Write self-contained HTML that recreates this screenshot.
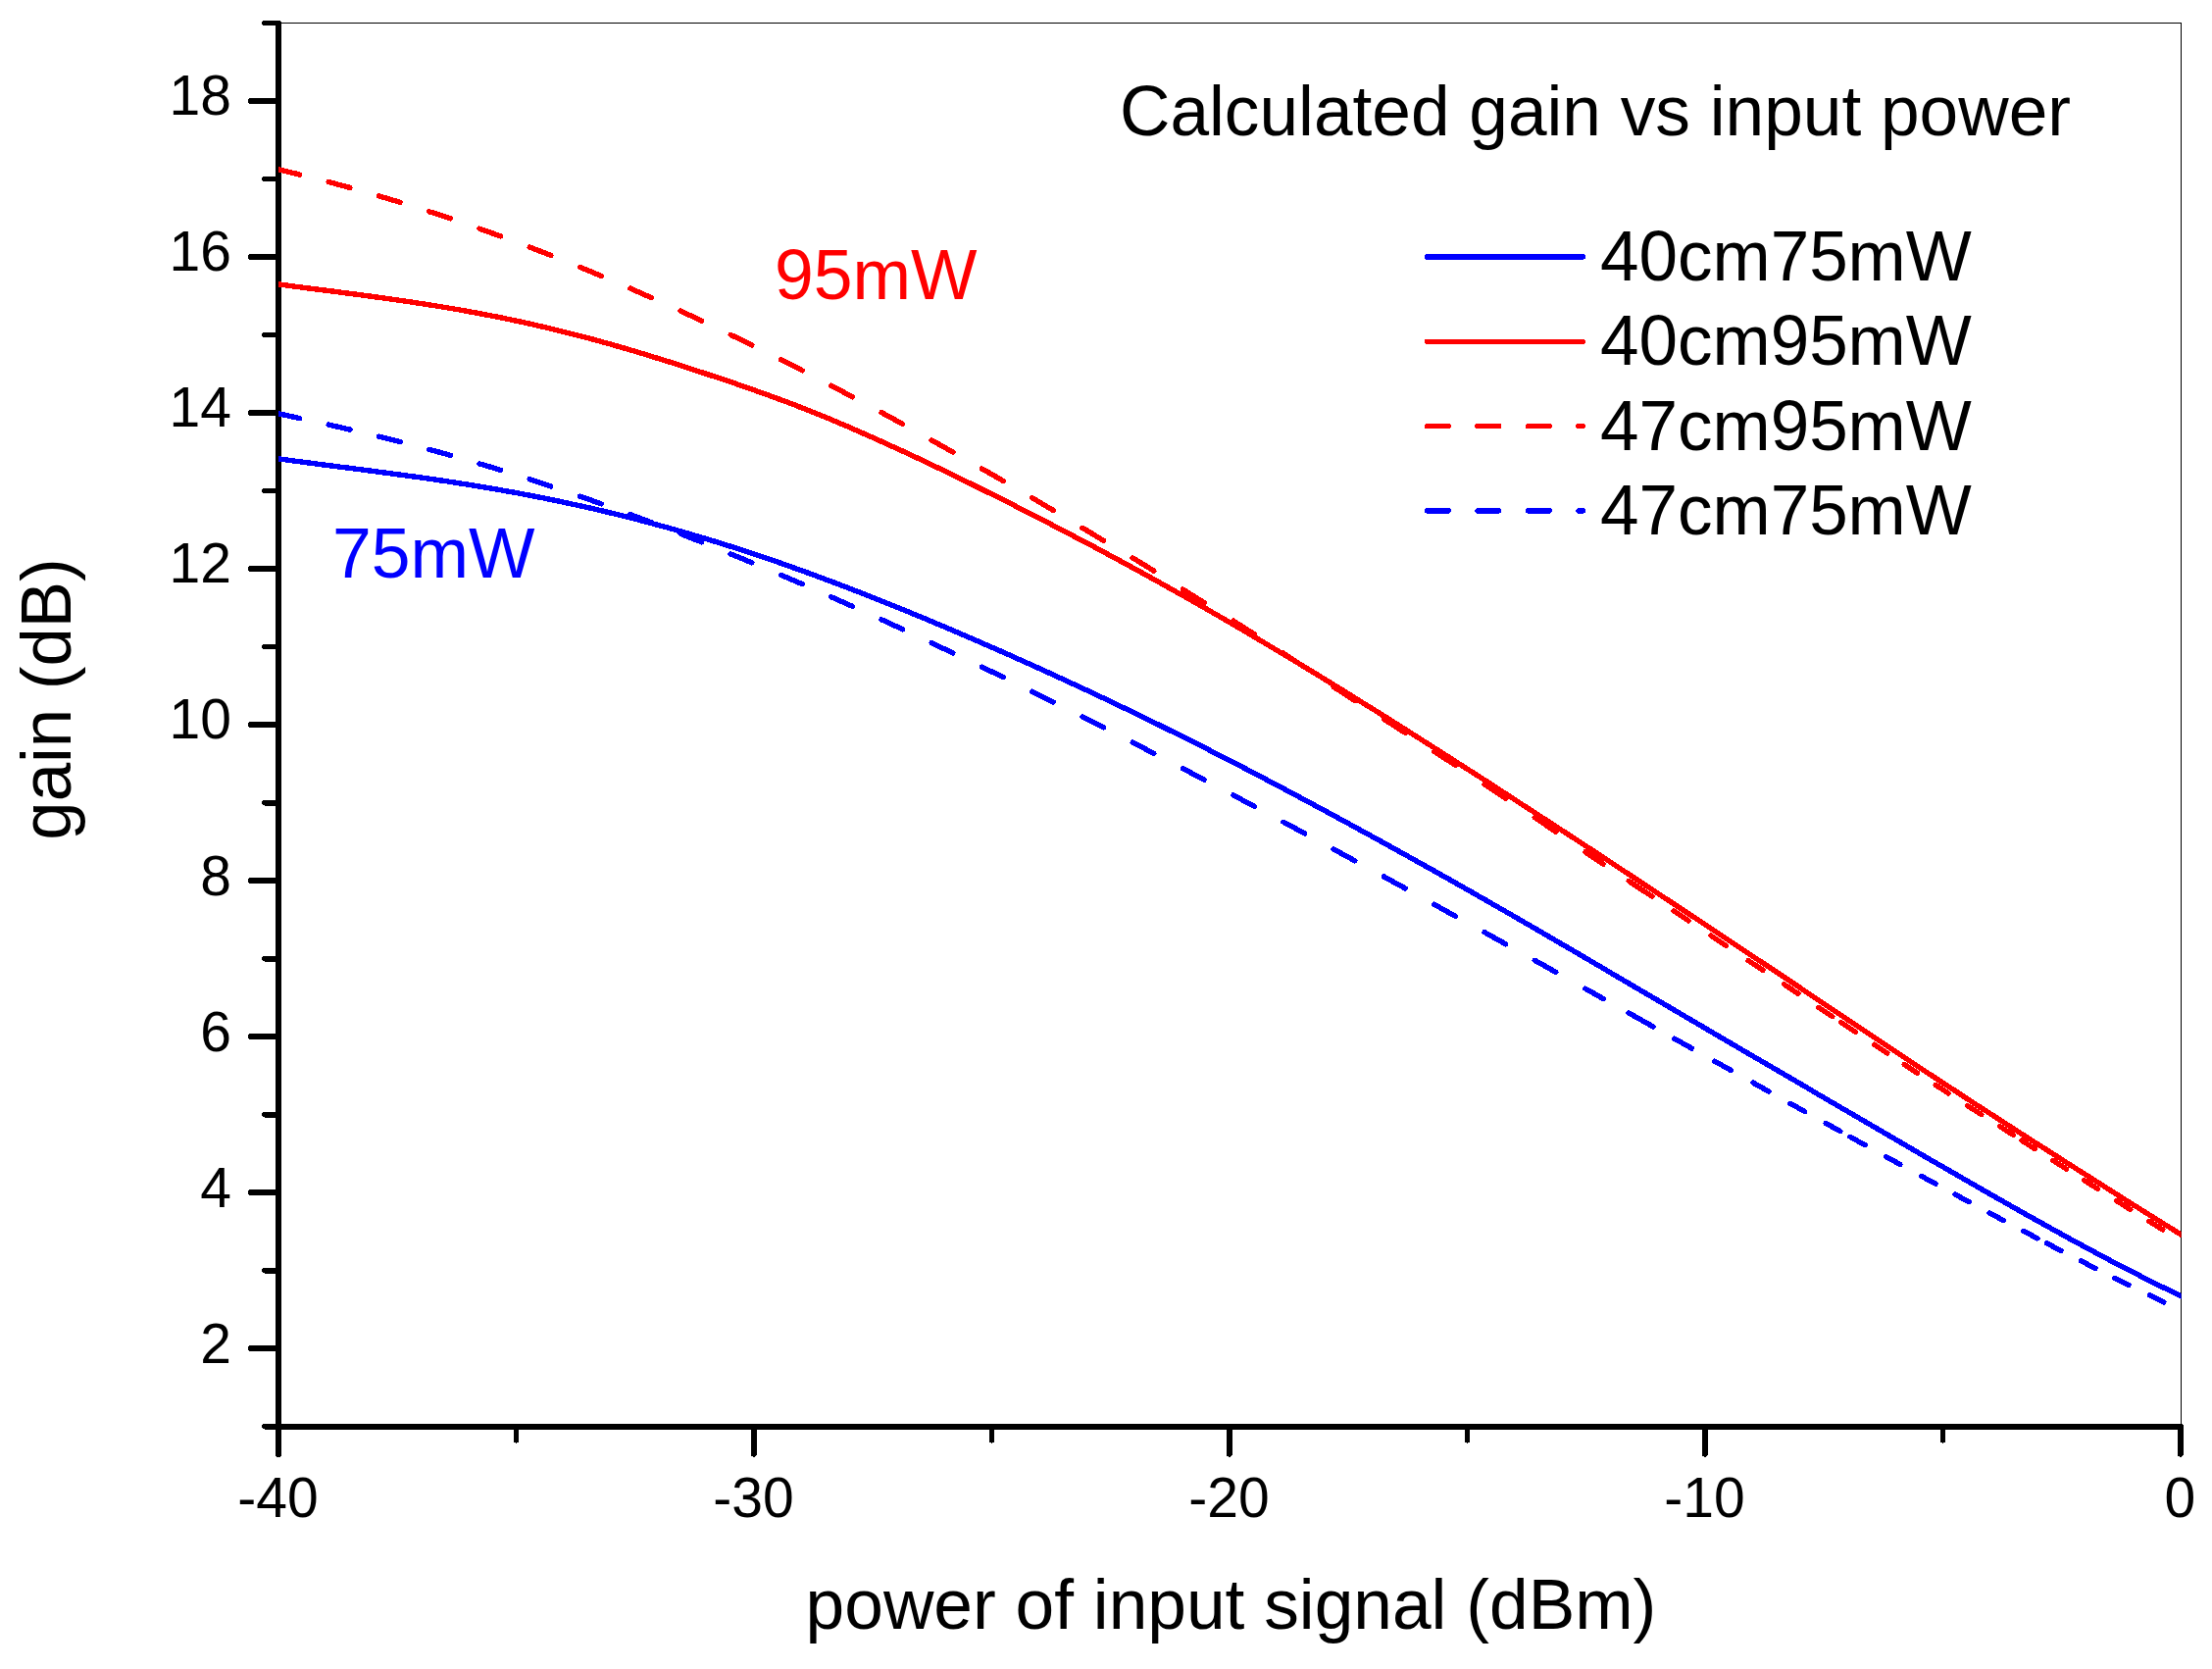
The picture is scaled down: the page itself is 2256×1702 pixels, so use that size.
<!DOCTYPE html>
<html lang="en"><head><meta charset="utf-8"><title>Calculated gain vs input power</title>
<style>html,body{margin:0;padding:0;background:#fff;overflow:hidden}svg{display:block}</style></head>
<body>
<svg width="2256" height="1702" viewBox="0 0 2256 1702">
<rect width="2256" height="1702" fill="#fff"/>
<g shape-rendering="crispEdges" stroke="#000" stroke-width="1.2" fill="none"><path d="M287 23.7H2224.6 M2224.1 23.5V1452"/></g>
<g stroke="#000" stroke-width="5.8" stroke-linecap="round" fill="none" shape-rendering="crispEdges">
<path d="M284 23.5V1483 M284 1454.6H2224 M255.8 1375.1H284 M255.8 1216.1H284 M255.8 1057.1H284 M255.8 898.1H284 M255.8 739.0H284 M255.8 580.0H284 M255.8 421.0H284 M255.8 262.0H284 M255.8 103.0H284 M270 1454.6H284 M270 1295.6H284 M270 1136.6H284 M270 977.6H284 M270 818.6H284 M270 659.5H284 M270 500.5H284 M270 341.5H284 M270 182.5H284 M270 23.5H284 M284.0 1454.6V1482.9 M769.0 1454.6V1482.9 M1254.0 1454.6V1482.9 M1739.0 1454.6V1482.9 M2224.0 1454.6V1482.9 M526.5 1454.6V1468.7 M1011.5 1454.6V1468.7 M1496.5 1454.6V1468.7 M1981.5 1454.6V1468.7"/>
</g>
<clipPath id="plotclip"><rect x="284" y="20" width="1940.6" height="1440"/></clipPath>
<g fill="none" stroke-width="5.4" stroke-linecap="round" stroke-linejoin="round" shape-rendering="crispEdges" clip-path="url(#plotclip)">
<path stroke="#0000ff" d="M281.0 467.5 L287.0 468.3 L293.0 469.1 L299.0 469.9 L305.0 470.7 L311.0 471.5 L317.0 472.3 L323.0 473.1 L329.0 473.9 L335.1 474.6 L341.1 475.4 L347.1 476.2 L353.1 476.9 L359.1 477.7 L365.1 478.5 L371.1 479.2 L377.1 480.0 L383.1 480.8 L389.1 481.6 L395.1 482.4 L401.1 483.2 L407.1 484.0 L413.1 484.8 L419.1 485.6 L425.1 486.4 L431.2 487.3 L437.2 488.1 L443.2 489.0 L449.2 489.9 L455.2 490.7 L461.2 491.7 L467.2 492.6 L473.2 493.5 L479.2 494.5 L485.2 495.4 L491.2 496.4 L497.2 497.4 L503.2 498.5 L509.2 499.5 L515.2 500.6 L521.2 501.6 L527.3 502.7 L533.3 503.9 L539.3 505.0 L545.3 506.2 L551.3 507.3 L557.3 508.5 L563.3 509.8 L569.3 511.0 L575.3 512.3 L581.3 513.6 L587.3 514.9 L593.3 516.2 L599.3 517.5 L605.3 518.9 L611.3 520.3 L617.3 521.7 L623.4 523.2 L629.4 524.6 L635.4 526.1 L641.4 527.6 L647.4 529.1 L653.4 530.7 L659.4 532.3 L665.4 533.9 L671.4 535.5 L677.4 537.1 L683.4 538.8 L689.4 540.5 L695.4 542.2 L701.4 543.9 L707.4 545.7 L713.4 547.5 L719.5 549.3 L725.5 551.1 L731.5 552.9 L737.5 554.8 L743.5 556.7 L749.5 558.6 L755.5 560.5 L761.5 562.5 L767.5 564.5 L773.5 566.5 L779.5 568.5 L785.5 570.6 L791.5 572.6 L797.5 574.7 L803.5 576.8 L809.5 579.0 L815.5 581.1 L821.6 583.3 L827.6 585.5 L833.6 587.7 L839.6 589.9 L845.6 592.2 L851.6 594.4 L857.6 596.7 L863.6 599.0 L869.6 601.3 L875.6 603.6 L881.6 606.0 L887.6 608.3 L893.6 610.7 L899.6 613.1 L905.6 615.5 L911.6 617.9 L917.7 620.4 L923.7 622.8 L929.7 625.3 L935.7 627.8 L941.7 630.2 L947.7 632.7 L953.7 635.3 L959.7 637.8 L965.7 640.3 L971.7 642.9 L977.7 645.4 L983.7 648.0 L989.7 650.6 L995.7 653.2 L1001.7 655.8 L1007.7 658.4 L1013.8 661.0 L1019.8 663.7 L1025.8 666.3 L1031.8 669.0 L1037.8 671.7 L1043.8 674.4 L1049.8 677.1 L1055.8 679.8 L1061.8 682.5 L1067.8 685.2 L1073.8 688.0 L1079.8 690.7 L1085.8 693.5 L1091.8 696.3 L1097.8 699.0 L1103.8 701.8 L1109.9 704.6 L1115.9 707.5 L1121.9 710.3 L1127.9 713.1 L1133.9 716.0 L1139.9 718.8 L1145.9 721.7 L1151.9 724.6 L1157.9 727.5 L1163.9 730.4 L1169.9 733.3 L1175.9 736.3 L1181.9 739.2 L1187.9 742.2 L1193.9 745.2 L1199.9 748.1 L1206.0 751.1 L1212.0 754.1 L1218.0 757.2 L1224.0 760.2 L1230.0 763.2 L1236.0 766.3 L1242.0 769.3 L1248.0 772.4 L1254.0 775.5 L1260.0 778.6 L1266.0 781.7 L1272.0 784.8 L1278.0 788.0 L1284.0 791.1 L1290.0 794.2 L1296.0 797.4 L1302.0 800.6 L1308.1 803.7 L1314.1 806.9 L1320.1 810.1 L1326.1 813.3 L1332.1 816.5 L1338.1 819.7 L1344.1 823.0 L1350.1 826.2 L1356.1 829.4 L1362.1 832.7 L1368.1 836.0 L1374.1 839.2 L1380.1 842.5 L1386.1 845.8 L1392.1 849.0 L1398.1 852.3 L1404.2 855.6 L1410.2 858.9 L1416.2 862.3 L1422.2 865.6 L1428.2 868.9 L1434.2 872.2 L1440.2 875.6 L1446.2 878.9 L1452.2 882.3 L1458.2 885.6 L1464.2 889.0 L1470.2 892.4 L1476.2 895.7 L1482.2 899.1 L1488.2 902.5 L1494.2 905.9 L1500.3 909.3 L1506.3 912.8 L1512.3 916.2 L1518.3 919.6 L1524.3 923.1 L1530.3 926.5 L1536.3 930.0 L1542.3 933.4 L1548.3 936.9 L1554.3 940.4 L1560.3 943.8 L1566.3 947.3 L1572.3 950.8 L1578.3 954.3 L1584.3 957.8 L1590.3 961.3 L1596.4 964.8 L1602.4 968.3 L1608.4 971.8 L1614.4 975.3 L1620.4 978.9 L1626.4 982.4 L1632.4 985.9 L1638.4 989.4 L1644.4 993.0 L1650.4 996.5 L1656.4 1000.0 L1662.4 1003.5 L1668.4 1007.1 L1674.4 1010.6 L1680.4 1014.1 L1686.4 1017.6 L1692.5 1021.2 L1698.5 1024.7 L1704.5 1028.2 L1710.5 1031.7 L1716.5 1035.3 L1722.5 1038.8 L1728.5 1042.3 L1734.5 1045.8 L1740.5 1049.4 L1746.5 1052.9 L1752.5 1056.4 L1758.5 1059.9 L1764.5 1063.4 L1770.5 1066.9 L1776.5 1070.5 L1782.5 1074.0 L1788.5 1077.5 L1794.6 1081.0 L1800.6 1084.5 L1806.6 1088.0 L1812.6 1091.5 L1818.6 1095.0 L1824.6 1098.5 L1830.6 1102.0 L1836.6 1105.5 L1842.6 1109.0 L1848.6 1112.6 L1854.6 1116.1 L1860.6 1119.6 L1866.6 1123.1 L1872.6 1126.6 L1878.6 1130.1 L1884.6 1133.6 L1890.7 1137.1 L1896.7 1140.6 L1902.7 1144.1 L1908.7 1147.6 L1914.7 1151.1 L1920.7 1154.6 L1926.7 1158.1 L1932.7 1161.6 L1938.7 1165.1 L1944.7 1168.6 L1950.7 1172.1 L1956.7 1175.6 L1962.7 1179.1 L1968.7 1182.6 L1974.7 1186.0 L1980.7 1189.5 L1986.8 1193.0 L1992.8 1196.5 L1998.8 1199.9 L2004.8 1203.4 L2010.8 1206.8 L2016.8 1210.3 L2022.8 1213.7 L2028.8 1217.2 L2034.8 1220.6 L2040.8 1224.0 L2046.8 1227.4 L2052.8 1230.8 L2058.8 1234.2 L2064.8 1237.6 L2070.8 1241.0 L2076.8 1244.3 L2082.9 1247.7 L2088.9 1251.0 L2094.9 1254.4 L2100.9 1257.7 L2106.9 1261.0 L2112.9 1264.3 L2118.9 1267.5 L2124.9 1270.8 L2130.9 1274.0 L2136.9 1277.2 L2142.9 1280.4 L2148.9 1283.6 L2154.9 1286.8 L2160.9 1289.9 L2166.9 1293.0 L2172.9 1296.1 L2179.0 1299.2 L2185.0 1302.3 L2191.0 1305.3 L2197.0 1308.3 L2203.0 1311.3 L2209.0 1314.2 L2215.0 1317.1 L2221.0 1320.0 L2227.0 1322.9"/>
<path stroke="#ff0000" d="M281.0 289.5 L287.0 290.3 L293.0 291.1 L299.0 291.9 L305.0 292.7 L311.0 293.5 L317.0 294.2 L323.0 295.0 L329.0 295.8 L335.1 296.5 L341.1 297.3 L347.1 298.1 L353.1 298.9 L359.1 299.7 L365.1 300.4 L371.1 301.2 L377.1 302.0 L383.1 302.9 L389.1 303.7 L395.1 304.5 L401.1 305.4 L407.1 306.2 L413.1 307.1 L419.1 308.0 L425.1 308.9 L431.2 309.8 L437.2 310.8 L443.2 311.7 L449.2 312.7 L455.2 313.7 L461.2 314.7 L467.2 315.7 L473.2 316.8 L479.2 317.9 L485.2 319.0 L491.2 320.1 L497.2 321.3 L503.2 322.4 L509.2 323.6 L515.2 324.8 L521.2 326.1 L527.3 327.4 L533.3 328.6 L539.3 330.0 L545.3 331.3 L551.3 332.7 L557.3 334.1 L563.3 335.5 L569.3 337.0 L575.3 338.5 L581.3 340.0 L587.3 341.5 L593.3 343.1 L599.3 344.6 L605.3 346.2 L611.3 347.9 L617.3 349.6 L623.4 351.2 L629.4 353.0 L635.4 354.7 L641.4 356.4 L647.4 358.2 L653.4 360.0 L659.4 361.9 L665.4 363.7 L671.4 365.6 L677.4 367.4 L683.4 369.3 L689.4 371.2 L695.4 373.2 L701.4 375.1 L707.4 377.1 L713.4 379.0 L719.5 381.0 L725.5 383.0 L731.5 385.0 L737.5 387.0 L743.5 389.0 L749.5 391.0 L755.5 393.1 L761.5 395.2 L767.5 397.2 L773.5 399.4 L779.5 401.5 L785.5 403.7 L791.5 405.9 L797.5 408.1 L803.5 410.3 L809.5 412.6 L815.5 415.0 L821.6 417.3 L827.6 419.7 L833.6 422.1 L839.6 424.6 L845.6 427.0 L851.6 429.5 L857.6 432.1 L863.6 434.6 L869.6 437.2 L875.6 439.8 L881.6 442.5 L887.6 445.1 L893.6 447.8 L899.6 450.5 L905.6 453.2 L911.6 456.0 L917.7 458.7 L923.7 461.5 L929.7 464.3 L935.7 467.1 L941.7 469.9 L947.7 472.8 L953.7 475.7 L959.7 478.5 L965.7 481.4 L971.7 484.3 L977.7 487.3 L983.7 490.2 L989.7 493.1 L995.7 496.1 L1001.7 499.1 L1007.7 502.1 L1013.8 505.1 L1019.8 508.1 L1025.8 511.1 L1031.8 514.1 L1037.8 517.2 L1043.8 520.2 L1049.8 523.3 L1055.8 526.4 L1061.8 529.4 L1067.8 532.5 L1073.8 535.7 L1079.8 538.8 L1085.8 541.9 L1091.8 545.0 L1097.8 548.2 L1103.8 551.4 L1109.9 554.5 L1115.9 557.7 L1121.9 560.9 L1127.9 564.1 L1133.9 567.4 L1139.9 570.6 L1145.9 573.8 L1151.9 577.1 L1157.9 580.4 L1163.9 583.7 L1169.9 587.0 L1175.9 590.3 L1181.9 593.6 L1187.9 597.0 L1193.9 600.3 L1199.9 603.7 L1206.0 607.1 L1212.0 610.5 L1218.0 613.9 L1224.0 617.3 L1230.0 620.7 L1236.0 624.2 L1242.0 627.6 L1248.0 631.1 L1254.0 634.6 L1260.0 638.1 L1266.0 641.6 L1272.0 645.2 L1278.0 648.7 L1284.0 652.3 L1290.0 655.8 L1296.0 659.4 L1302.0 663.0 L1308.1 666.6 L1314.1 670.2 L1320.1 673.8 L1326.1 677.5 L1332.1 681.1 L1338.1 684.8 L1344.1 688.4 L1350.1 692.1 L1356.1 695.8 L1362.1 699.5 L1368.1 703.2 L1374.1 706.9 L1380.1 710.6 L1386.1 714.4 L1392.1 718.1 L1398.1 721.8 L1404.2 725.6 L1410.2 729.4 L1416.2 733.1 L1422.2 736.9 L1428.2 740.7 L1434.2 744.5 L1440.2 748.3 L1446.2 752.1 L1452.2 755.9 L1458.2 759.7 L1464.2 763.6 L1470.2 767.4 L1476.2 771.2 L1482.2 775.1 L1488.2 778.9 L1494.2 782.8 L1500.3 786.6 L1506.3 790.5 L1512.3 794.4 L1518.3 798.2 L1524.3 802.1 L1530.3 806.0 L1536.3 809.9 L1542.3 813.8 L1548.3 817.7 L1554.3 821.6 L1560.3 825.5 L1566.3 829.4 L1572.3 833.3 L1578.3 837.2 L1584.3 841.1 L1590.3 845.0 L1596.4 849.0 L1602.4 852.9 L1608.4 856.8 L1614.4 860.8 L1620.4 864.7 L1626.4 868.6 L1632.4 872.6 L1638.4 876.5 L1644.4 880.5 L1650.4 884.4 L1656.4 888.4 L1662.4 892.3 L1668.4 896.3 L1674.4 900.2 L1680.4 904.2 L1686.4 908.1 L1692.5 912.1 L1698.5 916.1 L1704.5 920.0 L1710.5 924.0 L1716.5 928.0 L1722.5 932.0 L1728.5 935.9 L1734.5 939.9 L1740.5 943.9 L1746.5 947.9 L1752.5 951.9 L1758.5 955.8 L1764.5 959.8 L1770.5 963.8 L1776.5 967.8 L1782.5 971.8 L1788.5 975.8 L1794.6 979.8 L1800.6 983.8 L1806.6 987.8 L1812.6 991.8 L1818.6 995.8 L1824.6 999.8 L1830.6 1003.8 L1836.6 1007.8 L1842.6 1011.9 L1848.6 1015.9 L1854.6 1019.9 L1860.6 1023.9 L1866.6 1027.9 L1872.6 1031.9 L1878.6 1035.9 L1884.6 1040.0 L1890.7 1044.0 L1896.7 1048.0 L1902.7 1052.0 L1908.7 1056.0 L1914.7 1060.0 L1920.7 1064.0 L1926.7 1068.0 L1932.7 1072.0 L1938.7 1076.0 L1944.7 1080.0 L1950.7 1084.0 L1956.7 1088.0 L1962.7 1091.9 L1968.7 1095.9 L1974.7 1099.8 L1980.7 1103.8 L1986.8 1107.7 L1992.8 1111.6 L1998.8 1115.6 L2004.8 1119.5 L2010.8 1123.4 L2016.8 1127.3 L2022.8 1131.2 L2028.8 1135.0 L2034.8 1138.9 L2040.8 1142.8 L2046.8 1146.7 L2052.8 1150.5 L2058.8 1154.4 L2064.8 1158.2 L2070.8 1162.1 L2076.8 1165.9 L2082.9 1169.7 L2088.9 1173.6 L2094.9 1177.4 L2100.9 1181.2 L2106.9 1185.1 L2112.9 1188.9 L2118.9 1192.7 L2124.9 1196.5 L2130.9 1200.3 L2136.9 1204.1 L2142.9 1207.9 L2148.9 1211.7 L2154.9 1215.5 L2160.9 1219.3 L2166.9 1223.1 L2172.9 1226.9 L2179.0 1230.6 L2185.0 1234.4 L2191.0 1238.2 L2197.0 1241.9 L2203.0 1245.7 L2209.0 1249.4 L2215.0 1253.1 L2221.0 1256.9 L2227.0 1260.6"/>
<path stroke="#ff0000" d="M284.0 172.8 L289.4 174.1 L294.8 175.4 L300.2 176.7 L305.6 178.0 M335.2 185.6 L340.6 187.0 L346.1 188.5 L351.5 189.9 L356.9 191.4 M386.5 199.9 L391.9 201.5 L397.3 203.1 L402.7 204.7 L408.1 206.4 M437.8 215.8 L443.1 217.5 L448.6 219.3 L454.0 221.1 L459.4 222.9 M489.0 233.2 L494.4 235.1 L499.8 237.0 L505.2 239.0 L510.6 240.9 M540.2 252.0 L545.6 254.1 L551.0 256.2 L556.4 258.3 L561.8 260.4 M591.5 272.4 L596.9 274.6 L602.3 276.8 L607.7 279.1 L613.1 281.4 M642.8 294.1 L648.1 296.4 L653.5 298.8 L658.9 301.2 L664.3 303.6 M694.0 317.1 L699.4 319.6 L704.8 322.1 L710.2 324.6 L715.6 327.2 M745.2 341.4 L750.6 344.0 L756.0 346.6 L761.4 349.3 L766.8 351.9 M796.5 366.8 L801.9 369.5 L807.3 372.3 L812.7 375.0 L818.1 377.8 M847.8 393.2 L853.1 396.1 L858.5 398.9 L863.9 401.8 L869.3 404.7 M899.0 420.6 L904.4 423.6 L909.8 426.5 L915.2 429.5 L920.6 432.5 M950.2 448.9 L955.6 451.9 L961.0 455.0 L966.4 458.0 L971.8 461.1 M1001.5 478.0 L1006.9 481.1 L1012.3 484.2 L1017.7 487.3 L1023.1 490.4 M1052.8 507.8 L1058.2 510.9 L1063.5 514.1 L1068.9 517.3 L1074.3 520.5 M1104.0 538.3 L1109.4 541.5 L1114.8 544.8 L1120.2 548.1 L1125.6 551.3 M1155.2 568.9 L1160.7 572.2 L1166.0 575.5 L1171.4 578.8 L1176.8 582.2 M1206.5 601.1 L1211.9 604.5 L1217.3 607.9 L1222.7 611.3 L1228.1 614.6 M1257.8 633.1 L1263.2 636.5 L1268.5 639.9 L1273.9 643.4 L1279.3 646.8 M1309.0 666.2 L1314.4 669.8 L1319.8 673.3 L1325.2 676.9 L1330.6 680.6 M1360.2 700.5 L1365.7 704.0 L1371.0 707.5 L1376.4 711.0 L1381.8 714.5 M1411.5 733.4 L1416.9 736.9 L1422.3 740.3 L1427.7 743.8 L1433.1 747.2 M1462.8 766.3 L1468.2 769.8 L1473.5 773.3 L1478.9 776.8 L1484.3 780.4 M1514.0 799.9 L1519.4 803.5 L1524.8 807.1 L1530.2 810.6 L1535.6 814.2 M1565.2 833.7 L1570.7 837.3 L1576.0 840.9 L1581.4 844.6 L1586.8 848.2 M1616.9 868.9 L1621.5 872.0 L1626.1 875.0 L1630.6 878.1 L1635.2 881.1 M1661.2 898.4 L1667.1 902.4 L1673.0 906.3 L1678.9 910.2 L1684.8 914.1 M1707.0 928.9 L1710.7 931.4 L1714.4 933.8 L1718.2 936.3 L1721.9 938.8 M1745.1 954.2 L1748.9 956.7 L1752.7 959.3 L1756.4 961.8 L1760.2 964.3 M1783.1 979.5 L1786.8 982.0 L1790.6 984.4 L1794.3 986.9 L1798.0 989.4 M1819.7 1003.9 L1823.2 1006.2 L1826.8 1008.6 L1830.3 1011.0 L1833.9 1013.3 M1854.9 1027.4 L1858.4 1029.7 L1861.8 1032.0 L1865.3 1034.3 L1868.8 1036.7 M1877.9 1042.7 L1881.6 1045.2 L1885.2 1047.6 L1888.8 1050.1 L1892.5 1052.5 M1911.6 1065.2 L1914.9 1067.4 L1918.2 1069.6 L1921.5 1071.8 L1924.8 1073.9 M1942.2 1085.5 L1945.5 1087.7 L1948.9 1089.9 L1952.2 1092.1 L1955.6 1094.3 M1974.2 1106.5 L1977.5 1108.6 L1980.7 1110.7 L1984.0 1112.9 L1987.2 1115.0 M2006.6 1127.5 L2010.2 1129.8 L2013.8 1132.1 L2017.3 1134.4 L2020.9 1136.7 M2039.7 1148.7 L2043.1 1150.9 L2046.5 1153.1 L2049.9 1155.2 L2053.3 1157.4 M2062.1 1163.1 L2065.4 1165.2 L2068.8 1167.3 L2072.1 1169.5 L2075.4 1171.6 M2094.0 1183.5 L2097.4 1185.6 L2100.8 1187.8 L2104.1 1189.9 L2107.5 1192.1 M2125.7 1203.6 L2129.2 1205.8 L2132.7 1208.1 L2136.2 1210.3 L2139.7 1212.5 M2158.8 1224.6 L2162.3 1226.8 L2165.8 1229.0 L2169.3 1231.2 L2172.8 1233.4 M2191.9 1245.3 L2195.4 1247.5 L2198.8 1249.7 L2202.3 1251.9 L2205.8 1254.0"/>
<path stroke="#0000ff" d="M284.0 421.9 L289.4 423.0 L294.8 424.2 L300.2 425.4 L305.6 426.6 M335.2 433.1 L340.6 434.4 L346.1 435.6 L351.5 436.9 L356.9 438.1 M386.5 445.2 L391.9 446.5 L397.3 447.9 L402.7 449.2 L408.1 450.6 M437.8 458.4 L443.1 459.8 L448.6 461.3 L454.0 462.8 L459.4 464.3 M489.0 472.9 L494.4 474.5 L499.8 476.1 L505.2 477.8 L510.6 479.4 M540.2 488.8 L545.6 490.6 L551.0 492.4 L556.4 494.2 L561.8 496.0 M591.5 506.1 L596.9 508.0 L602.3 509.9 L607.7 511.9 L613.1 513.8 M642.8 524.6 L648.1 526.7 L653.5 528.7 L658.9 530.7 L664.3 532.8 M694.0 544.3 L699.4 546.4 L704.8 548.5 L710.2 550.7 L715.6 552.8 M745.2 564.9 L750.6 567.1 L756.0 569.3 L761.4 571.6 L766.8 573.8 M796.5 586.4 L801.9 588.7 L807.3 591.0 L812.7 593.3 L818.1 595.7 M847.8 608.7 L853.1 611.1 L858.5 613.5 L863.9 615.9 L869.3 618.3 M899.0 631.8 L904.4 634.3 L909.8 636.8 L915.2 639.3 L920.6 641.8 M950.2 655.6 L955.6 658.2 L961.0 660.8 L966.4 663.3 L971.8 665.9 M1001.5 680.1 L1006.9 682.8 L1012.3 685.4 L1017.7 688.0 L1023.1 690.7 M1052.8 705.3 L1058.2 707.9 L1063.5 710.6 L1068.9 713.3 L1074.3 716.0 M1104.0 731.0 L1109.4 733.7 L1114.8 736.4 L1120.2 739.2 L1125.6 741.9 M1155.2 757.1 L1160.7 759.9 L1166.0 762.7 L1171.4 765.5 L1176.8 768.3 M1206.5 783.8 L1211.9 786.6 L1217.3 789.5 L1222.7 792.3 L1228.1 795.2 M1257.8 810.9 L1263.2 813.7 L1268.5 816.6 L1273.9 819.5 L1279.3 822.4 M1309.0 838.3 L1314.4 841.2 L1319.8 844.1 L1325.2 847.0 L1330.6 849.9 M1360.2 866.0 L1365.7 869.0 L1371.0 871.9 L1376.4 874.8 L1381.8 877.8 M1411.5 894.0 L1416.9 897.0 L1422.3 900.0 L1427.7 902.9 L1433.1 905.9 M1462.8 922.3 L1468.2 925.3 L1473.5 928.3 L1478.9 931.3 L1484.3 934.2 M1514.0 950.7 L1519.4 953.7 L1524.8 956.7 L1530.2 959.7 L1535.6 962.8 M1565.2 979.3 L1570.7 982.3 L1576.0 985.3 L1581.4 988.4 L1586.8 991.4 M1616.9 1008.2 L1621.5 1010.8 L1626.1 1013.3 L1630.6 1015.9 L1635.2 1018.5 M1661.2 1033.0 L1667.4 1036.5 L1673.6 1040.0 L1679.8 1043.5 L1686.0 1047.0 M1707.9 1059.2 L1712.2 1061.7 L1716.6 1064.1 L1721.0 1066.6 L1725.3 1069.0 M1748.8 1082.2 L1752.9 1084.5 L1757.0 1086.8 L1761.1 1089.1 L1765.2 1091.4 M1788.1 1104.2 L1792.1 1106.4 L1796.0 1108.6 L1799.9 1110.8 L1803.9 1113.0 M1825.9 1125.3 L1829.6 1127.4 L1833.3 1129.4 L1837.0 1131.5 L1840.7 1133.6 M1862.1 1145.5 L1865.8 1147.5 L1869.5 1149.6 L1873.2 1151.7 L1876.9 1153.7 M1887.0 1159.3 L1890.8 1161.4 L1894.5 1163.5 L1898.3 1165.6 L1902.1 1167.7 M1923.5 1179.5 L1927.1 1181.5 L1930.7 1183.5 L1934.3 1185.4 L1937.9 1187.4 M1959.8 1199.4 L1963.3 1201.4 L1966.9 1203.3 L1970.5 1205.2 L1974.0 1207.2 M1993.9 1218.0 L1997.5 1219.9 L2001.0 1221.8 L2004.5 1223.7 L2008.1 1225.7 M2029.1 1236.9 L2032.7 1238.9 L2036.2 1240.8 L2039.8 1242.7 L2043.4 1244.6 M2063.8 1255.4 L2067.3 1257.3 L2070.8 1259.1 L2074.4 1261.0 L2077.9 1262.8 M2087.7 1267.9 L2091.3 1269.8 L2094.8 1271.7 L2098.4 1273.5 L2102.0 1275.4 M2122.6 1286.0 L2126.2 1287.8 L2129.8 1289.7 L2133.4 1291.5 L2137.0 1293.3 M2157.0 1303.4 L2160.5 1305.1 L2163.9 1306.9 L2167.4 1308.6 L2170.9 1310.3 M2192.3 1320.8 L2195.9 1322.6 L2199.6 1324.4 L2203.2 1326.1 L2206.8 1327.9"/>
</g>
<g font-family="'Liberation Sans', sans-serif" fill="#000">
<text x="236" y="1389.5" font-size="57" text-anchor="end">2</text>
<text x="236" y="1230.5" font-size="57" text-anchor="end">4</text>
<text x="236" y="1071.5" font-size="57" text-anchor="end">6</text>
<text x="236" y="912.5" font-size="57" text-anchor="end">8</text>
<text x="236" y="753.4" font-size="57" text-anchor="end">10</text>
<text x="236" y="594.4" font-size="57" text-anchor="end">12</text>
<text x="236" y="435.4" font-size="57" text-anchor="end">14</text>
<text x="236" y="276.4" font-size="57" text-anchor="end">16</text>
<text x="236" y="117.4" font-size="57" text-anchor="end">18</text>
<text x="283.4" y="1546.7" font-size="57" text-anchor="middle">-40</text>
<text x="768.4" y="1546.7" font-size="57" text-anchor="middle">-30</text>
<text x="1253.4" y="1546.7" font-size="57" text-anchor="middle">-20</text>
<text x="1738.4" y="1546.7" font-size="57" text-anchor="middle">-10</text>
<text x="2223.4" y="1546.7" font-size="57" text-anchor="middle">0</text>
<text x="1142" y="137.8" font-size="71.5" textLength="970" lengthAdjust="spacingAndGlyphs">Calculated gain vs input power</text>
<text x="1632" y="286.1" font-size="71.5" textLength="378.8" lengthAdjust="spacingAndGlyphs">40cm75mW</text>
<text x="1632" y="372.4" font-size="71.5" textLength="378.8" lengthAdjust="spacingAndGlyphs">40cm95mW</text>
<text x="1632" y="458.7" font-size="71.5" textLength="378.8" lengthAdjust="spacingAndGlyphs">47cm95mW</text>
<text x="1632" y="545.0" font-size="71.5" textLength="378.8" lengthAdjust="spacingAndGlyphs">47cm75mW</text>
<text x="790" y="304.8" font-size="71.5" fill="#ff0000">95mW</text>
<text x="339" y="589.2" font-size="71.5" fill="#0000ff">75mW</text>
<text x="821.6" y="1660.5" font-size="71.5" textLength="867.7" lengthAdjust="spacingAndGlyphs">power of input signal (dBm)</text>
<text transform="translate(71.8 856.7) rotate(-90)" font-size="71.5" textLength="287.3" lengthAdjust="spacingAndGlyphs">gain (dB)</text>
</g>
<g fill="none" stroke-width="5.4" stroke-linecap="round" shape-rendering="crispEdges">
<path stroke="#0000ff" d="M1455.5 262H1614.3"/>
<path stroke="#ff0000" d="M1455.5 348.4H1614.3"/>
<path stroke="#ff0000" d="M1455.5 434.6H1477.2 M1507.0 434.6H1528.7 M1558.5 434.6H1580.2 M1610.0 434.6H1614.3"/>
<path stroke="#0000ff" d="M1455.5 520.9H1477.2 M1507.0 520.9H1528.7 M1558.5 520.9H1580.2 M1610.0 520.9H1614.3"/>
</g>
</svg>
</body></html>
